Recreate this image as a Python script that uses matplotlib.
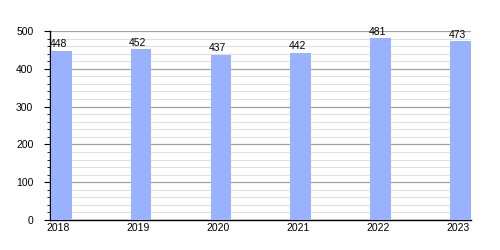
import matplotlib
matplotlib.use("Agg")
import matplotlib.pyplot as plt
from matplotlib.ticker import MultipleLocator

years = ["2018", "2019", "2020", "2021", "2022", "2023"]
values = [448, 452, 437, 442, 481, 473]

plt.rcParams['font.family'] = ['Liberation Sans', 'DejaVu Sans']

fig = plt.figure(figsize=(5, 2.5), dpi=100)
ax = fig.add_axes([0.1, 0.12, 0.842, 0.756])

x = list(range(len(years)))
bars = ax.bar(x, values, width=0.26, color="#99b2ff", zorder=3)
for xi, v in zip(x, values):
    ax.text(xi - 0.04, v + 4, str(v), ha="center", va="bottom", fontsize=7.5, zorder=4)

ax.set_xlim(-0.14, 5.13)
ax.set_ylim(0, 500)
ax.set_xticks([xi - 0.035 for xi in x])
ax.set_xticklabels(years, fontsize=7.5)
ax.tick_params(axis="x", length=0, pad=2)
ax.yaxis.set_major_locator(MultipleLocator(100))
ax.yaxis.set_minor_locator(MultipleLocator(20))
ax.tick_params(axis="y", which="major", length=4, labelsize=7.5, pad=8)
ax.tick_params(axis="y", which="minor", length=2)
ax.grid(axis="y", which="major", color="#a0a0a0", linewidth=0.9, zorder=1)
ax.grid(axis="y", which="minor", color="#e0e0e0", linewidth=0.8, zorder=0)
for s in ["top", "right"]:
    ax.spines[s].set_visible(False)
ax.spines["left"].set_linewidth(1.0)
ax.spines["bottom"].set_linewidth(1.0)

fig.savefig("out.png", dpi=100)
